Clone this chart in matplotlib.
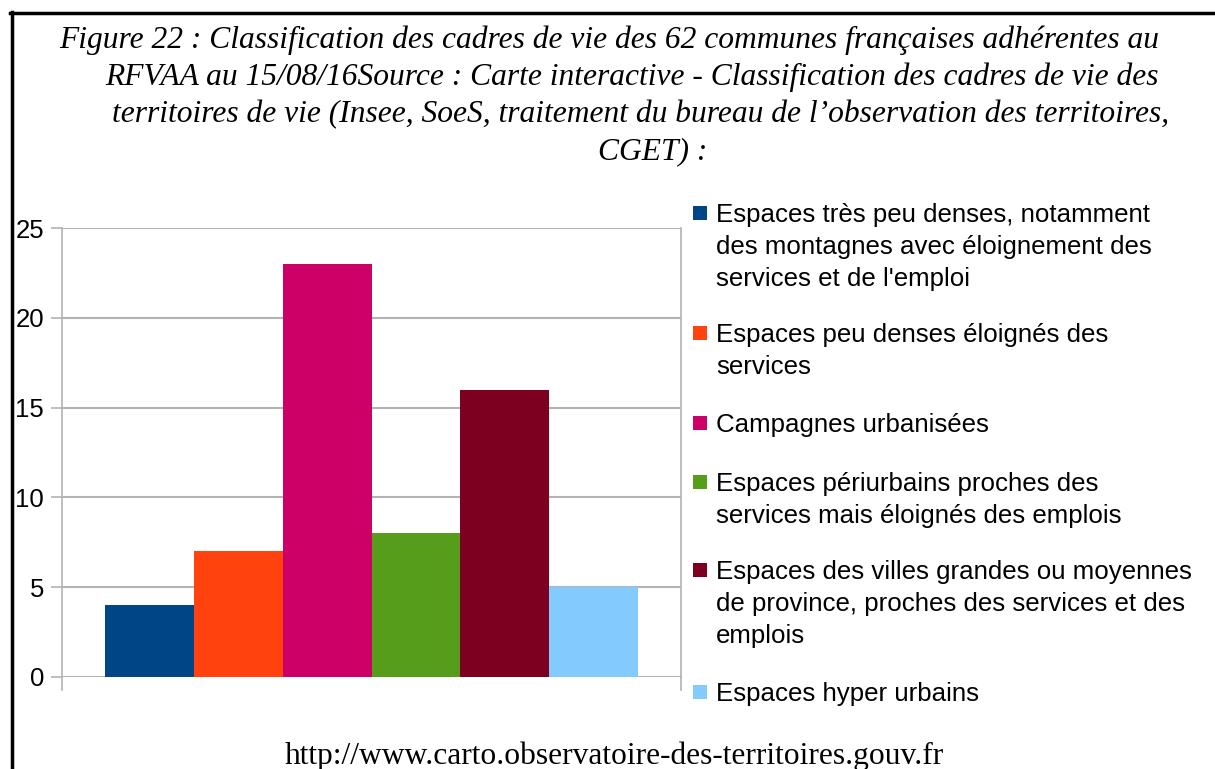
import matplotlib
matplotlib.use('Agg')
import matplotlib.pyplot as plt
from matplotlib.patches import Rectangle
from matplotlib.lines import Line2D

# data
categories = [
	"Espaces très peu denses, notamment\ndes montagnes avec éloignement des\nservices et de l'emploi",
	"Espaces peu denses éloignés des\nservices",
	"Campagnes urbanisées",
	"Espaces périurbains proches des\nservices mais éloignés des emplois",
	"Espaces des villes grandes ou moyennes\nde province, proches des services et des\nemplois",
	"Espaces hyper urbains",
]
values = [4, 7, 23, 8, 16, 5]
colors = ['#004586', '#ff420e', '#cc0066', '#579d1c', '#7e0021', '#83caff']
yticks = [0, 5, 10, 15, 20, 25]

title_lines = [
	"Figure 22 : Classification des cadres de vie des 62 communes françaises adhérentes au",
	"RFVAA au 15/08/16Source : Carte interactive - Classification des cadres de vie des",
	"territoires de vie (Insee, SoeS, traitement du bureau de l\u2019observation des territoires,",
	"CGET) :",
]
source = "http://www.carto.observatoire-des-territoires.gouv.fr"

W, H = 1215, 769


def fx(x):
	return x / W


def fy(y):
	return 1 - y / H


def main():
	plt.rcParams['font.family'] = ['Liberation Sans', 'DejaVu Sans']
	fig = plt.figure(figsize=(W / 100, H / 100), dpi=100)
	fig.patch.set_facecolor('white')

	grey = '#b3b3b3'
	ax = fig.add_axes([fx(62), fy(677), fx(681) - fx(62), fy(228) - fy(677)])
	n = len(values)
	bw = 532 / 619
	bw = bw / n
	for i in range(n):
		ax.bar((i - (n - 1) / 2) * bw, values[i], width=bw, color=colors[i], zorder=3)
	ax.set_xlim(-0.5, 0.5)
	ax.set_ylim(0, 25)
	ax.set_yticks(yticks)
	ax.set_xticks([])
	ax.yaxis.grid(True, color=grey, linewidth=1.5, zorder=0)
	for s in ['top', 'bottom']:
		ax.spines[s].set_visible(False)
	for s in ['left', 'right']:
		ax.spines[s].set_color(grey)
		ax.spines[s].set_linewidth(1.2)
	ax.tick_params(axis='y', length=8, width=1.2, color=grey, labelsize=18.5, pad=5)
	# small ticks below the axis at both ends
	for xx in [62, 681]:
		fig.add_artist(Line2D([fx(xx), fx(xx)], [fy(677), fy(690)], color=grey, lw=1.2))

	# legend drawn by hand
	entry_tops = [222, 342, 432, 491, 579, 701]
	for i, lab in enumerate(categories):
		base = entry_tops[i]
		fig.add_artist(Rectangle((fx(693), fy(base - 2)), fx(14), 14 / H,
								 facecolor=colors[i], edgecolor='none'))
		for j, line in enumerate(lab.split('\n')):
			fig.text(fx(716), fy(base + 32 * j), line, fontsize=18.6, va='baseline', ha='left')

	# title
	centers = [609, 632, 641, 653]
	for j, line in enumerate(title_lines):
		fig.text(fx(centers[j]), fy(48 + 37 * j), line, family=['Liberation Serif', 'DejaVu Serif'],
				 style='italic', fontsize=22.7, ha='center', va='baseline')

	fig.text(fx(614), fy(764), source, family=['Liberation Serif', 'DejaVu Serif'],
			 fontsize=22.7, ha='center', va='baseline')

	# frame
	fig.add_artist(Line2D([fx(10), fx(1215)], [fy(13), fy(13)], color='black', lw=2.5))
	fig.add_artist(Line2D([fx(12), fx(12)], [fy(12), fy(769)], color='black', lw=2.5))

	fig.savefig('out.png', dpi=100)


if __name__ == '__main__':
	main()
